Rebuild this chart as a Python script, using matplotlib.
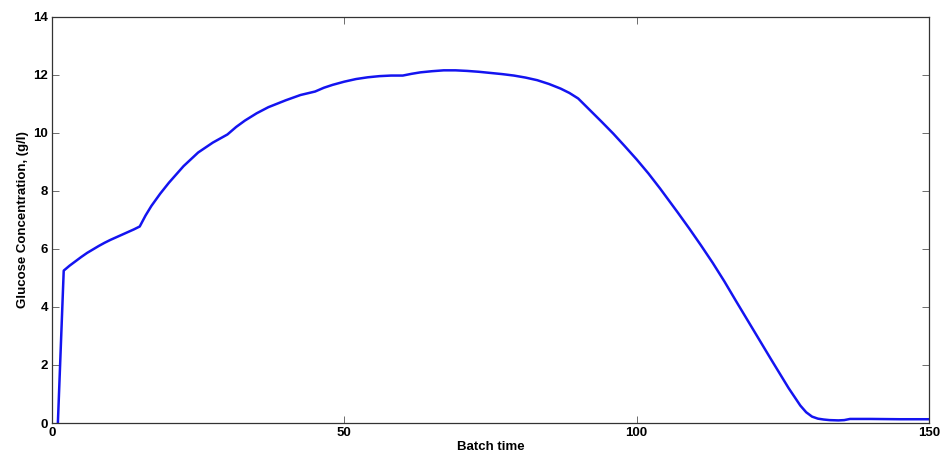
import matplotlib
matplotlib.use('Agg')
import matplotlib.pyplot as plt

plt.rcParams['font.family'] = ['Liberation Sans', 'DejaVu Sans']
plt.rcParams['font.weight'] = 'bold'

# Glucose concentration
batch_time = [1, 2, 3, 4, 5, 6, 7, 8, 9, 10, 11, 12, 13, 14, 15,
              16, 17, 18.5, 20, 22.5, 25, 27.5, 30,
              31.5, 33, 35, 37, 40, 42.5, 45,
              46.5, 48, 50, 52, 54, 56, 58, 60,
              61.5, 63, 65, 67, 69, 71, 73, 75,
              77, 79, 81, 83, 85, 87, 88.5, 90,
              92, 94, 96, 98, 100, 102, 104, 107, 109, 111, 113, 115,
              117, 119, 121, 123, 125, 126, 127, 128, 129, 130, 131, 132, 133,
              134.5, 135.5, 136.5, 140, 145, 150]
glucose = [0.0, 5.25, 5.42, 5.57, 5.72, 5.86, 5.98, 6.1, 6.21, 6.31, 6.4, 6.49, 6.58, 6.67, 6.77,
           7.15, 7.48, 7.9, 8.28, 8.85, 9.32, 9.66, 9.94,
           10.2, 10.42, 10.67, 10.88, 11.12, 11.3, 11.42,
           11.55, 11.65, 11.76, 11.85, 11.91, 11.95, 11.97, 11.97,
           12.03, 12.08, 12.12, 12.15, 12.15, 12.13, 12.1, 12.06,
           12.02, 11.97, 11.9, 11.81, 11.68, 11.52, 11.37, 11.18,
           10.78, 10.38, 9.97, 9.53, 9.08, 8.6, 8.08, 7.26, 6.7, 6.12, 5.52, 4.88,
           4.2, 3.53, 2.86, 2.19, 1.53, 1.2, 0.9, 0.6, 0.37, 0.22, 0.15, 0.12, 0.1,
           0.09, 0.1, 0.14, 0.14, 0.13, 0.13]

x_ticks = [0, 50, 100, 150]
y_ticks = [0, 2, 4, 6, 8, 10, 12, 14]

fig = plt.figure(figsize=(9.46, 4.62), dpi=100)
ax = fig.add_axes([0.055, 0.0844, 0.927, 0.8796])

ax.plot(batch_time, glucose, color='#1414f0', linewidth=1.8)

ax.set_xlim(0, 150)
ax.set_ylim(0, 14)
ax.set_xticks(x_ticks)
ax.set_yticks(y_ticks)
ax.tick_params(direction='in', length=5, width=0.6, labelsize=9.5,
               top=True, right=True, pad=3, color='#555555')
for lbl in ax.get_xticklabels() + ax.get_yticklabels():
    lbl.set_fontweight('bold')
for s in ax.spines.values():
    s.set_color('#333333')
    s.set_linewidth(0.9)

ax.set_xlabel('Batch time', fontsize=9.5, fontweight='bold', labelpad=1)
ax.set_ylabel('Glucose Concentration, (g/l)', fontsize=9.5, fontweight='bold', labelpad=3)

fig.savefig('out.png', dpi=100)
